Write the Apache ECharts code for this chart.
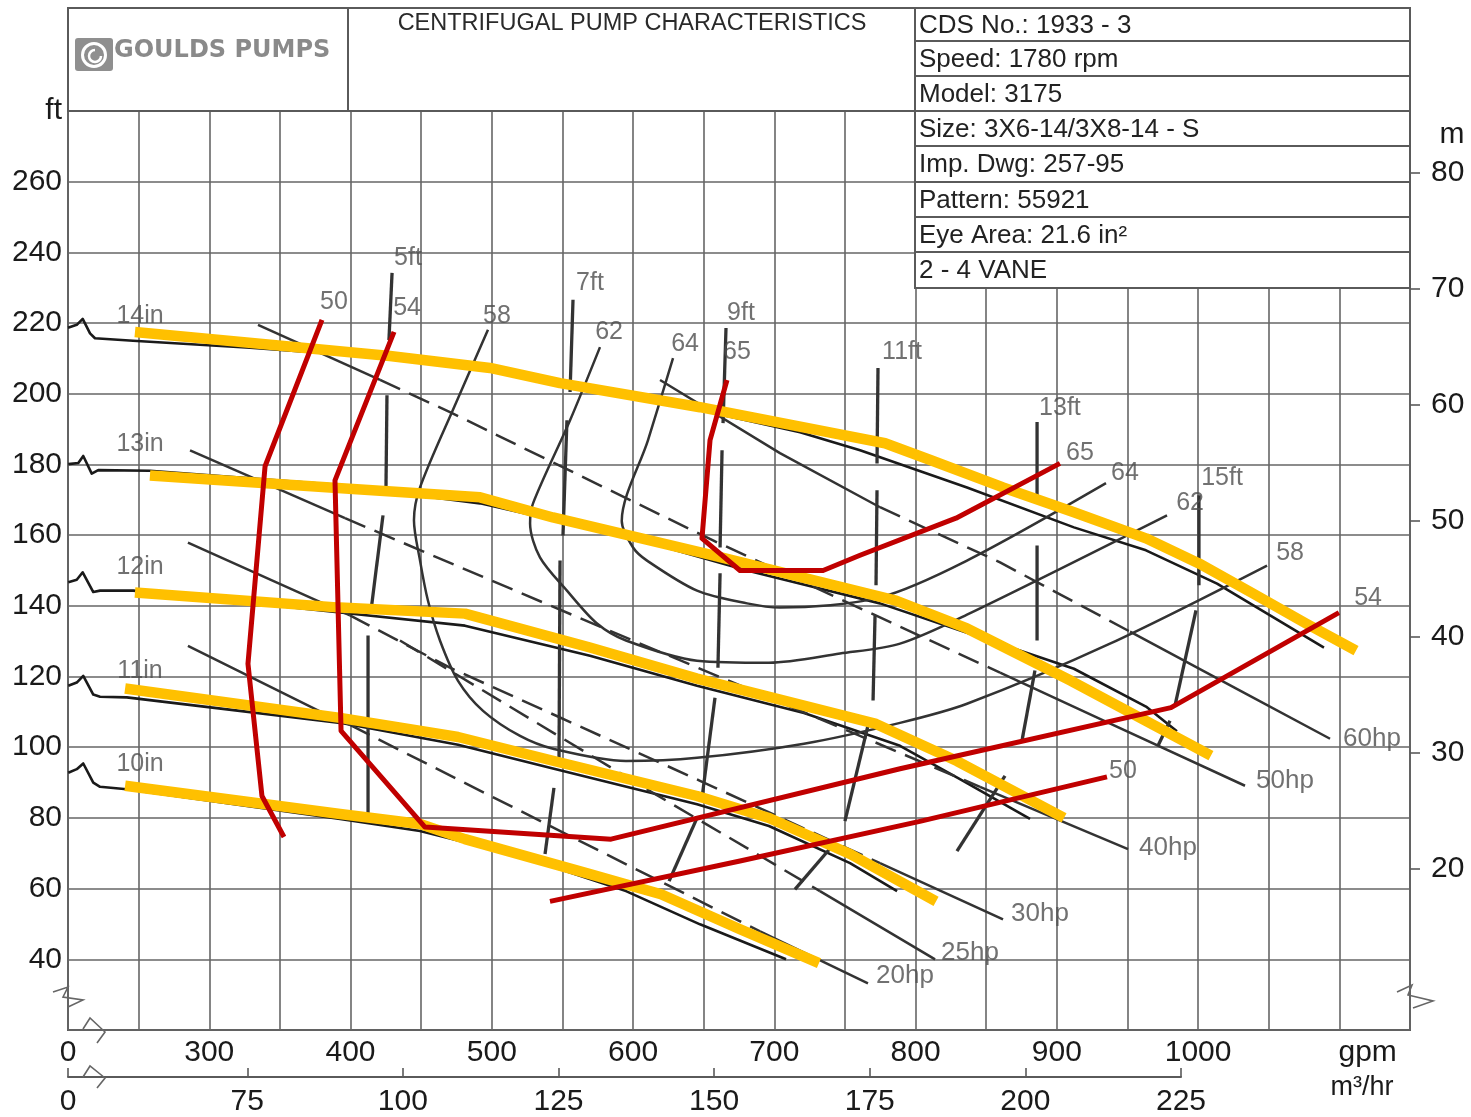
<!DOCTYPE html>
<html>
<head>
<meta charset="utf-8">
<title>Centrifugal Pump Characteristics - Model 3175</title>
<script src="https://cdn.jsdelivr.net/npm/echarts@6/dist/echarts.min.js"></script>
<style>
  html, body { margin: 0; padding: 0; background: #ffffff; }
  #chart { width: 1471px; height: 1117px; }
</style>
</head>
<body>
<div id="chart"></div>
<script>
// ---------------- axes ----------------
const gpmMin = 200, gpmMax = 1150;          // left edge is a broken axis, labelled 0
const ftMin = 20, ftMax = 280;
const FT_PER_M = 3.28084;
const gpmLabels = [200, 300, 400, 500, 600, 700, 800, 900, 1000, 1120];
const m3hMin = 46.2, m3hMax = 225;
const m3hLabels = [46.2, 75, 100, 125, 150, 175, 200, 225];
const meterLabels = [20, 30, 40, 50, 60, 70, 80];

// ---------------- impeller head curves (gpm, ft) ----------------
const head14 = [[200,218.7],[206.2,219.5],[210.4,221.2],[215.6,217.1],[219.1,215.7],[246,215],[328.8,213],[399.6,211],[498.7,207],[576.6,201],[647.4,195.4],[718.2,189.1],[760.7,184],[836.4,173.5],[912.1,162.2],[963.1,155.7],[1013.4,146.3],[1089.1,128.2]];
const head13 = [[200.2,180.1],[207.3,180.4],[210.8,182.4],[216.8,177.4],[221.4,178.4],[258,178.2],[385.5,174.4],[491.7,169],[597.8,159.4],[680.7,150],[774.8,140.7],[836.4,132.4],[912.1,122.2],[963.1,111.5],[985,104.5]];
const head12 = [[200.2,146.7],[206.2,147.4],[210.4,149.5],[217.9,143.9],[222.7,144.3],[246.2,144.3],[392.6,138.1],[481,134.4],[569.5,125.9],[645.3,117.4],[721,109.7],[789,100.4],[831.4,91],[881,79.7]];
const head11 = [[200.2,117.4],[206.2,118.3],[210.8,120.2],[217.9,114.9],[222.7,114.3],[241.6,114.1],[392.6,106.9],[476.1,100.7],[544,93.9],[645.3,83.9],[696.2,77.7],[753.6,67.2],[786.9,59.3]];
const head10 = [[200.2,92.8],[206.2,93.8],[210.8,95.4],[217.9,90],[222.7,88.8],[241.6,88.1],[392.6,79.7],[449.2,76.3],[520,69.2],[595,59.3],[647.4,49.9],[708.3,40]];

// ---------------- highlighted diameters ----------------
const mark14 = [[247.4,217.5],[427.9,210.7],[498.7,207.3],[548.3,203],[647.4,196.2],[778.4,186],[810.9,181.2],[861.9,173.5],[912.1,166.5],[963.1,159.1],[1000.6,152],[1038.9,143.5],[1076.4,135],[1111.8,127.3]];
const mark13 = [[258,176.9],[385.5,173.5],[491.7,170.7],[543.3,165],[656.6,154.3],[786.1,141.5],[836.4,133.6],[910,118.8],[1009.1,97.6]];
const mark12 = [[247.4,143.8],[392.6,139.5],[481,137.8],[569.5,128.2],[645.3,119.4],[772,106.6],[829.3,96.1],[905.1,80]];
const mark11 = [[240.4,116.6],[392.6,108.3],[476.1,102.9],[544,96.1],[645.3,86.2],[696.2,80],[753.6,69.8],[814.5,56.4]];
const mark10 = [[240.4,89.1],[392.6,81.1],[449.2,78.3],[481,74],[569.5,64.1],[619.8,58.4],[675.7,48.5],[731.6,38.9]];

// ---------------- highlighted efficiency contours ----------------
const red50Left = [[379.8,220.9],[339.5,179.5],[327.4,123.6],[337.3,86.2],[352.9,74.6]];
const red54 = [[430.8,217.5],[389,175.5],[393.3,104.6],[452.7,77.4],[584.4,74],[789,93.9],[980.8,111.2],[1099.7,138.1]];
const red65 = [[666.5,203.9],[654.5,186.9],[648.8,159.1],[675.7,150],[734.5,150],[760.7,154.3],[828.6,164.8],[902.2,180.3]];
const red50Right = [[541.2,56.4],[675.7,67.8],[803.8,79.1],[935.5,91.6]];

// ---------------- efficiency contours (%) ----------------
const eff58 = [[497.3,218.1],[474,196.8],[449.2,173.5],[444.9,164.2],[449.2,152.8],[454.8,141.5],[463.3,130.2],[476.1,118.8],[493.8,110.3],[520,103.2],[544,99.5],[595,96.1],[645.3,97],[721,101],[789,106.9],[836.4,112.3],[937.6,129.3],[1048.8,151.4]];
const eff62 = [[576.6,213.2],[555.4,192.5],[529.2,169],[527.1,163.3],[534.1,153.7],[553.2,144.3],[574.5,135],[595,130.2],[645.3,124.5],[696.2,123.9],[746.5,126.5],[789,129.3],[836.4,137.5],[978,165.6]];
const eff64 = [[628.3,210.1],[610.6,186.9],[592,164],[600,156.5],[609.9,152.8],[645.3,144.3],[680.7,140.7],[704,139.5],[774.8,142.4],[836.4,152.8],[934.8,174.7]];

// ---------------- NPSHr lines, drawn as segments ----------------
const npsh5 = [[[429.4,234.2],[427.2,215.2]],[[425.8,199.6],[425.1,173.5]],[[423,165.6],[414.5,138.7]],[[412.4,131.6],[412.4,80]]];
const npsh7 = [[[557.5,226.6],[555.4,200.5]],[[553.2,192.5],[550.4,159.9]],[[548.3,152.8],[547.6,97]],[[544,88.5],[537.7,69.8]]];
const npsh9 = [[[665.8,218.6],[663.7,191.7]],[[663,184],[661.6,156.5]],[[661.6,149.2],[660.1,122.5]],[[658,114],[648.8,85.6]],[[645.3,80],[625.5,62.1]]];
const npsh11 = [[[773.4,207.3],[772.7,180.3]],[[772.7,172.7],[772,145.8]],[[771.3,137.3],[769.9,113.2]],[[766.3,106.1],[750,79.1]],[[740.8,72],[714.6,59.8]]];
const npsh13 = [[[886,192],[886,171.3]],[[886,157.1],[886,130.2]],[[884.5,121.7],[875.3,101.8]],[[863.3,91.9],[829.3,70.6]]];
const npsh15 = [[[1000.6,171.3],[1000.6,145.8]],[[998.5,138.7],[983.6,111.7]],[[980.1,107.5],[971.6,100.4]]];

// ---------------- power lines (hp): pieces alternate solid / dashed ----------------
const hp60 = [[[619.1,203.9],[704,183.2],[774.8,167.9]], [[774.8,167.9],[859.8,152.3],[951.8,132.7]], [[951.8,132.7],[1029.7,116],[1093.4,102.4]]];
const hp50 = [[[334.5,219.5],[420.9,203.9]], [[420.9,203.9],[470.4,194.8],[656.6,158.5],[789,134.1],[859.8,121.1]], [[859.8,121.1],[930.5,108],[1033.2,89.1]]];
const hp40 = [[[286.4,184],[396.1,164.8]], [[396.1,164.8],[576.6,134.1],[753.6,104.4],[845.6,88.8]], [[845.6,88.8],[950.4,71.2]]];
const hp30 = [[[284.9,157.9],[376.3,141.5],[399.6,137.3]], [[399.6,137.3],[470.4,122.5],[647.4,90.5],[774.8,67.2]], [[774.8,67.2],[861.9,51.3]]];
const hp25 = [[], [[435,130.2],[612,87.6],[732.3,59.3]], [[732.3,59.3],[813.8,40]]];
const hp20 = [[[284.9,128.7],[387.6,108.3],[399.6,106.3]], [[399.6,106.3],[576.6,70.6],[689.9,47.9]], [[689.9,47.9],[766.3,33.2]]];

// ---------------- curve labels (gpm, ft, text) ----------------
const diameterLabels = [[251,222,'14in'],[251,185.7,'13in'],[251,151.1,'12in'],[251,121.4,'11in'],[251,95.3,'10in']];
const efficiencyLabels = [[388.3,226,'50'],[440,224.3,'54'],[503.7,222,'58'],[583,217.5,'62'],[636.8,214.1,'64'],[673.6,211.8,'65'],
  [916.4,183.2,'65'],[948.2,177.5,'64'],[994.3,169,'62'],[1065.1,154.8,'58'],[1120.3,142.1,'54'],[946.8,93.3,'50']];
const npshLabels = [[440.7,238.5,'5ft'],[569.5,231.4,'7ft'],[676.4,222.9,'9ft'],[790.4,211.8,'11ft'],[902.2,195.9,'13ft'],[1016.9,176.1,'15ft']];
const powerLabels = [[1123.1,102.4,'60hp'],[1061.5,90.5,'50hp'],[978.7,71.5,'40hp'],[888.1,52.8,'30hp'],[838.5,41.7,'25hp'],[792.5,35.2,'20hp']];

// ---------------- data sheet ----------------
const sheetRows = ['CDS No.: 1933 - 3', 'Speed: 1780 rpm', 'Model: 3175', 'Size: 3X6-14/3X8-14 - S',
  'Imp. Dwg: 257-95', 'Pattern: 55921', 'Eye Area: 21.6 in\u00b2', '2 - 4 VANE'];

// ---------------- styling ----------------
const SANS = '"Liberation Sans", Arial, sans-serif';
const GRID = '#666666';
const INK = '#1a1a1a';
const PEN = '#333333';
const YELLOW = '#FFC000';
const RED = '#C00000';

const series = [];
function addLine(data, color, width, z, extra) {
  series.push(Object.assign({
    type: 'line', data: data, symbol: 'none', silent: true, z: z, animation: false,
    lineStyle: { color: color, width: width, cap: 'butt', join: 'round' }
  }, extra || {}));
}
function addSegments(segments, color, width, z) {
  segments.forEach(function (seg) { addLine(seg, color, width, z); });
}
function addPowerLine(pieces) {
  pieces.forEach(function (piece, i) {
    if (!piece.length) return;
    addLine(piece, PEN, 2.5, 3);
    if (i % 2 === 1) series[series.length - 1].lineStyle.type = [22, 10];
  });
}
function addLabels(items, size) {
  series.push({
    type: 'scatter', data: items, symbolSize: 1, silent: true, z: 8, animation: false, clip: false,
    itemStyle: { color: 'rgba(0,0,0,0)' },
    label: { show: true, position: 'inside', formatter: function (p) { return p.data[2]; },
      fontSize: size, fontFamily: SANS, color: '#4d4d4d' }
  });
}

[head14, head13, head12, head11, head10].forEach(function (d) { addLine(d, INK, 2.6, 3); });
[eff58, eff62, eff64].forEach(function (d) { addLine(d, PEN, 2.5, 3, { smooth: 0.3 }); });
[npsh5, npsh7, npsh9, npsh11, npsh13, npsh15].forEach(function (s) { addSegments(s, PEN, 3.3, 3); });
[hp60, hp50, hp40, hp30, hp25, hp20].forEach(addPowerLine);
[mark14, mark13, mark12, mark11, mark10].forEach(function (d) { addLine(d, YELLOW, 10.5, 4); });
[red50Left, red54, red65, red50Right].forEach(function (d) { addLine(d, RED, 5, 5); });
addLabels(diameterLabels, 25);
addLabels(efficiencyLabels, 25);
addLabels(npshLabels, 25);
addLabels(powerLabels, 26);

// ---------------- page furniture ----------------
const graphic = [];
const frame = { stroke: '#5a5a5a', lineWidth: 2, fill: 'none' };
graphic.push({ type: 'rect', z: 100, shape: { x: 68, y: 8, width: 1342, height: 103 }, style: frame });
graphic.push({ type: 'line', z: 100, shape: { x1: 348, y1: 8, x2: 348, y2: 111 }, style: frame });
graphic.push({ type: 'text', z: 100, x: 632, y: 24,
  style: { text: 'CENTRIFUGAL PUMP CHARACTERISTICS', font: '23.5px ' + SANS, fill: '#2a2a2a', align: 'center', verticalAlign: 'middle' } });

// logo
graphic.push({ type: 'rect', z: 100, shape: { x: 75, y: 38, width: 38, height: 33, r: 3 }, style: { fill: '#8f8f8f' } });
graphic.push({ type: 'circle', z: 101, shape: { cx: 94, cy: 55, r: 11.5 }, style: { fill: 'none', stroke: '#fff', lineWidth: 3 } });
graphic.push({ type: 'arc', z: 101, shape: { cx: 95, cy: 56, r: 6, startAngle: 0, endAngle: Math.PI * 1.5 }, style: { fill: 'none', stroke: '#fff', lineWidth: 2.5 } });
graphic.push({ type: 'text', z: 100, x: 114, y: 51,
  style: { text: 'GOULDS PUMPS', font: 'bold 24px "DejaVu Sans", sans-serif', fill: '#8a8a8a', align: 'left', verticalAlign: 'middle' } });

// data sheet table
const rowEdges = [8, 41, 76, 111, 146, 182, 217, 252, 288];
graphic.push({ type: 'rect', z: 100, shape: { x: 915, y: 8, width: 495, height: 280 }, style: { fill: '#fff', stroke: '#5a5a5a', lineWidth: 2 } });
rowEdges.slice(1, -1).forEach(function (y) {
  graphic.push({ type: 'line', z: 101, shape: { x1: 915, y1: y, x2: 1410, y2: y }, style: frame });
});
sheetRows.forEach(function (t, i) {
  graphic.push({ type: 'text', z: 102, x: 919, y: (rowEdges[i] + rowEdges[i + 1]) / 2 + 1,
    style: { text: t, font: '26px ' + SANS, fill: '#222', align: 'left', verticalAlign: 'middle' } });
});

// broken-axis marks
const breakStyle = { fill: 'none', stroke: '#666', lineWidth: 1.6 };
[
  [[53,992],[68,987],[63,997],[83,1000],[68,1007]],
  [[83,1029],[90,1018],[105,1032],[97,1043]],
  [[83,1077],[90,1066],[105,1078],[97,1088]],
  [[1397,992],[1412,985],[1408,995],[1433,1001],[1413,1008]]
].forEach(function (pts) {
  graphic.push({ type: 'polyline', z: 100, shape: { points: pts }, style: breakStyle });
});

// unit captions
graphic.push({ type: 'text', z: 100, x: 1452, y: 135, style: { text: 'm', font: '30px ' + SANS, fill: INK, align: 'center', verticalAlign: 'middle' } });
graphic.push({ type: 'text', z: 100, x: 1362, y: 1088, style: { text: 'm\u00b3/hr', font: '27px ' + SANS, fill: INK, align: 'center', verticalAlign: 'middle' } });

const axisFont = { fontSize: 30, fontFamily: SANS, color: INK };

const option = {
  animation: false,
  backgroundColor: '#ffffff',
  grid: [
    { left: 68, right: 61, top: 111, bottom: 87, show: true, borderColor: '#5a5a5a', borderWidth: 2, backgroundColor: '#fff' },
    { left: 68, right: 290, top: 1076, height: 1 }
  ],
  xAxis: [
    {
      type: 'value', gridIndex: 0, min: gpmMin, max: gpmMax, interval: 50,
      axisLine: { show: false }, axisTick: { show: false },
      splitLine: { show: true, lineStyle: { color: GRID, width: 1.6 } },
      axisLabel: Object.assign({
        customValues: gpmLabels, margin: 8,
        formatter: function (v) { return v === gpmMin ? '0' : (v === 1120 ? 'gpm' : String(v)); }
      }, axisFont)
    },
    {
      type: 'value', gridIndex: 1, min: m3hMin, max: m3hMax, position: 'bottom',
      axisLine: { show: true, lineStyle: { color: '#5a5a5a', width: 2 } },
      axisTick: { show: true, inside: true, length: 9, customValues: m3hLabels, lineStyle: { color: '#5a5a5a', width: 1.6 } },
      splitLine: { show: false },
      axisLabel: Object.assign({
        customValues: m3hLabels, margin: 10,
        formatter: function (v) { return v === m3hMin ? '0' : String(v); }
      }, axisFont)
    }
  ],
  yAxis: [
    {
      type: 'value', gridIndex: 0, min: ftMin, max: ftMax, interval: 20,
      axisLine: { show: false }, axisTick: { show: false },
      splitLine: { show: true, lineStyle: { color: GRID, width: 1.6 } },
      axisLabel: Object.assign({
        margin: 6, showMinLabel: false,
        formatter: function (v) { return v === ftMax ? 'ft' : (v === ftMin ? '' : String(v)); }
      }, axisFont)
    },
    {
      type: 'value', gridIndex: 0, position: 'right', min: ftMin / FT_PER_M, max: ftMax / FT_PER_M,
      axisLine: { show: false },
      axisTick: { show: true, inside: false, length: 10, customValues: meterLabels, lineStyle: { color: '#5a5a5a', width: 1.6 } },
      splitLine: { show: false },
      axisLabel: Object.assign({ customValues: meterLabels, margin: 21 }, axisFont)
    },
    { type: 'value', gridIndex: 1, show: false, min: 0, max: 1 }
  ],
  series: series,
  graphic: { elements: graphic }
};

const chart = echarts.init(document.getElementById('chart'));
chart.setOption(option);
</script>
</body>
</html>
